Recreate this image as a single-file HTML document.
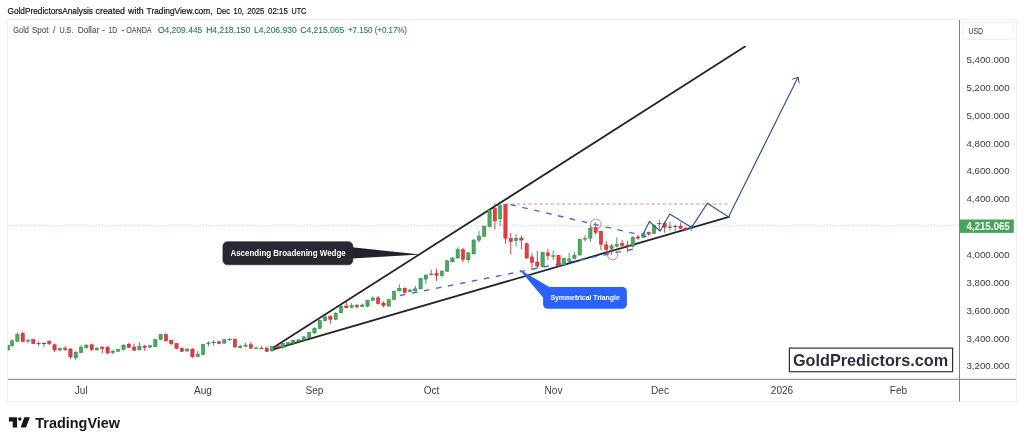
<!DOCTYPE html>
<html lang="en">
<head>
<meta charset="utf-8">
<title>Gold Spot / U.S. Dollar chart</title>
<style>
html,body{margin:0;padding:0;background:#fff;}
body{width:1024px;height:444px;overflow:hidden;}
svg{display:block;font-family:"Liberation Sans","DejaVu Sans",sans-serif;}
</style>
</head>
<body>
<svg width="1024" height="444" viewBox="0 0 1024 444">
<rect width="1024" height="444" fill="#fff"/>
<rect x="7.5" y="19.5" width="1009" height="382" fill="#fff" stroke="#f0f0f0" stroke-width="1"/>
<line x1="8" y1="225.8" x2="959" y2="225.8" stroke="#b4d2b9" stroke-width="1" stroke-dasharray="1 1.6"/>
<line x1="273" y1="347.8" x2="745" y2="46.6" stroke="#262626" stroke-width="1.8" stroke-linecap="round"/>
<line x1="272.5" y1="349.6" x2="729" y2="216.8" stroke="#262626" stroke-width="1.8" stroke-linecap="round"/>
<g id="candles" shape-rendering="auto">
<rect x="8.00" y="345.16" width="1.50" height="4.88" fill="#49aa5b" stroke="#2c8545" stroke-width="0.5"/>
<line x1="12.11" y1="339.30" x2="12.11" y2="347.11" stroke="#2c8545" stroke-width="0.85"/>
<rect x="10.46" y="340.86" width="3.30" height="4.69" fill="#49aa5b" stroke="#2c8545" stroke-width="0.5"/>
<line x1="17.41" y1="332.46" x2="17.41" y2="341.64" stroke="#2c8545" stroke-width="0.85"/>
<rect x="15.76" y="334.41" width="3.30" height="6.84" fill="#49aa5b" stroke="#2c8545" stroke-width="0.5"/>
<line x1="22.71" y1="331.88" x2="22.71" y2="342.23" stroke="#b9292f" stroke-width="0.85"/>
<rect x="21.07" y="333.44" width="3.30" height="8.20" fill="#e43c41" stroke="#b9292f" stroke-width="0.5"/>
<line x1="28.02" y1="338.91" x2="28.02" y2="343.20" stroke="#3f6b4c" stroke-width="0.8"/>
<line x1="25.92" y1="340.86" x2="30.12" y2="340.86" stroke="#3f6b4c" stroke-width="1"/>
<line x1="33.32" y1="338.91" x2="33.32" y2="344.18" stroke="#b9292f" stroke-width="0.85"/>
<rect x="31.67" y="339.69" width="3.30" height="3.91" fill="#e43c41" stroke="#b9292f" stroke-width="0.5"/>
<line x1="38.63" y1="341.25" x2="38.63" y2="346.13" stroke="#3f6b4c" stroke-width="0.8"/>
<line x1="36.53" y1="343.59" x2="40.73" y2="343.59" stroke="#3f6b4c" stroke-width="1"/>
<line x1="43.93" y1="342.23" x2="43.93" y2="347.11" stroke="#8a3b3f" stroke-width="0.8"/>
<line x1="41.83" y1="343.59" x2="46.03" y2="343.59" stroke="#8a3b3f" stroke-width="1"/>
<line x1="49.24" y1="340.27" x2="49.24" y2="345.16" stroke="#b9292f" stroke-width="0.85"/>
<rect x="47.59" y="341.25" width="3.30" height="2.34" fill="#e43c41" stroke="#b9292f" stroke-width="0.5"/>
<line x1="54.54" y1="343.59" x2="54.54" y2="351.99" stroke="#b9292f" stroke-width="0.85"/>
<rect x="52.89" y="344.77" width="3.30" height="5.27" fill="#e43c41" stroke="#b9292f" stroke-width="0.5"/>
<line x1="59.85" y1="347.50" x2="59.85" y2="351.02" stroke="#2c8545" stroke-width="0.85"/>
<rect x="58.20" y="348.48" width="3.30" height="1.56" fill="#49aa5b" stroke="#2c8545" stroke-width="0.5"/>
<line x1="65.16" y1="346.13" x2="65.16" y2="351.02" stroke="#b9292f" stroke-width="0.85"/>
<rect x="63.51" y="348.09" width="3.30" height="1.37" fill="#e43c41" stroke="#b9292f" stroke-width="0.5"/>
<line x1="70.46" y1="348.09" x2="70.46" y2="358.83" stroke="#b9292f" stroke-width="0.85"/>
<rect x="68.81" y="349.06" width="3.30" height="7.81" fill="#e43c41" stroke="#b9292f" stroke-width="0.5"/>
<line x1="75.77" y1="351.02" x2="75.77" y2="359.80" stroke="#2c8545" stroke-width="0.85"/>
<rect x="74.11" y="352.38" width="3.30" height="5.47" fill="#49aa5b" stroke="#2c8545" stroke-width="0.5"/>
<line x1="81.07" y1="345.16" x2="81.07" y2="353.36" stroke="#2c8545" stroke-width="0.85"/>
<rect x="79.42" y="347.11" width="3.30" height="5.47" fill="#49aa5b" stroke="#2c8545" stroke-width="0.5"/>
<line x1="86.37" y1="344.38" x2="86.37" y2="348.67" stroke="#2c8545" stroke-width="0.85"/>
<rect x="84.72" y="345.16" width="3.30" height="2.34" fill="#49aa5b" stroke="#2c8545" stroke-width="0.5"/>
<line x1="91.68" y1="343.59" x2="91.68" y2="351.02" stroke="#b9292f" stroke-width="0.85"/>
<rect x="90.03" y="344.77" width="3.30" height="4.88" fill="#e43c41" stroke="#b9292f" stroke-width="0.5"/>
<line x1="96.98" y1="347.11" x2="96.98" y2="350.62" stroke="#2c8545" stroke-width="0.85"/>
<rect x="95.33" y="348.28" width="3.30" height="1.56" fill="#49aa5b" stroke="#2c8545" stroke-width="0.5"/>
<line x1="102.29" y1="346.33" x2="102.29" y2="353.36" stroke="#b9292f" stroke-width="0.85"/>
<rect x="100.64" y="347.11" width="3.30" height="1.17" fill="#e43c41" stroke="#b9292f" stroke-width="0.5"/>
<line x1="107.59" y1="346.33" x2="107.59" y2="354.14" stroke="#b9292f" stroke-width="0.85"/>
<rect x="105.94" y="347.11" width="3.30" height="5.86" fill="#e43c41" stroke="#b9292f" stroke-width="0.5"/>
<line x1="112.90" y1="350.04" x2="112.90" y2="354.53" stroke="#2c8545" stroke-width="0.85"/>
<rect x="111.25" y="351.02" width="3.30" height="1.56" fill="#49aa5b" stroke="#2c8545" stroke-width="0.5"/>
<line x1="118.20" y1="348.67" x2="118.20" y2="351.60" stroke="#2c8545" stroke-width="0.85"/>
<rect x="116.55" y="349.65" width="3.30" height="1.56" fill="#49aa5b" stroke="#2c8545" stroke-width="0.5"/>
<line x1="123.51" y1="344.18" x2="123.51" y2="350.23" stroke="#2c8545" stroke-width="0.85"/>
<rect x="121.86" y="345.16" width="3.30" height="4.49" fill="#49aa5b" stroke="#2c8545" stroke-width="0.5"/>
<line x1="128.81" y1="342.81" x2="128.81" y2="348.28" stroke="#b9292f" stroke-width="0.85"/>
<rect x="127.16" y="344.18" width="3.30" height="3.32" fill="#e43c41" stroke="#b9292f" stroke-width="0.5"/>
<line x1="134.12" y1="343.59" x2="134.12" y2="350.62" stroke="#b9292f" stroke-width="0.85"/>
<rect x="132.47" y="347.11" width="3.30" height="3.12" fill="#e43c41" stroke="#b9292f" stroke-width="0.5"/>
<line x1="139.43" y1="342.23" x2="139.43" y2="350.23" stroke="#2c8545" stroke-width="0.85"/>
<rect x="137.78" y="346.13" width="3.30" height="3.71" fill="#49aa5b" stroke="#2c8545" stroke-width="0.5"/>
<line x1="144.73" y1="344.77" x2="144.73" y2="351.02" stroke="#b9292f" stroke-width="0.85"/>
<rect x="143.08" y="346.13" width="3.30" height="1.37" fill="#e43c41" stroke="#b9292f" stroke-width="0.5"/>
<line x1="150.03" y1="344.77" x2="150.03" y2="347.89" stroke="#2c8545" stroke-width="0.85"/>
<rect x="148.38" y="345.74" width="3.30" height="1.37" fill="#49aa5b" stroke="#2c8545" stroke-width="0.5"/>
<line x1="155.34" y1="338.91" x2="155.34" y2="347.11" stroke="#2c8545" stroke-width="0.85"/>
<rect x="153.69" y="339.69" width="3.30" height="6.84" fill="#49aa5b" stroke="#2c8545" stroke-width="0.5"/>
<line x1="160.65" y1="333.83" x2="160.65" y2="340.27" stroke="#2c8545" stroke-width="0.85"/>
<rect x="159.00" y="334.61" width="3.30" height="5.08" fill="#49aa5b" stroke="#2c8545" stroke-width="0.5"/>
<line x1="165.95" y1="333.44" x2="165.95" y2="341.64" stroke="#b9292f" stroke-width="0.85"/>
<rect x="164.30" y="334.41" width="3.30" height="6.45" fill="#e43c41" stroke="#b9292f" stroke-width="0.5"/>
<line x1="171.25" y1="339.69" x2="171.25" y2="345.16" stroke="#b9292f" stroke-width="0.85"/>
<rect x="169.60" y="340.27" width="3.30" height="3.32" fill="#e43c41" stroke="#b9292f" stroke-width="0.5"/>
<line x1="176.56" y1="342.81" x2="176.56" y2="349.06" stroke="#b9292f" stroke-width="0.85"/>
<rect x="174.91" y="343.59" width="3.30" height="4.88" fill="#e43c41" stroke="#b9292f" stroke-width="0.5"/>
<line x1="181.87" y1="347.11" x2="181.87" y2="351.99" stroke="#b9292f" stroke-width="0.85"/>
<rect x="180.22" y="348.48" width="3.30" height="2.93" fill="#e43c41" stroke="#b9292f" stroke-width="0.5"/>
<line x1="187.17" y1="348.28" x2="187.17" y2="351.60" stroke="#2c8545" stroke-width="0.85"/>
<rect x="185.52" y="349.06" width="3.30" height="1.95" fill="#49aa5b" stroke="#2c8545" stroke-width="0.5"/>
<line x1="192.47" y1="348.28" x2="192.47" y2="357.66" stroke="#b9292f" stroke-width="0.85"/>
<rect x="190.82" y="349.06" width="3.30" height="7.81" fill="#e43c41" stroke="#b9292f" stroke-width="0.5"/>
<line x1="197.78" y1="351.02" x2="197.78" y2="356.88" stroke="#2c8545" stroke-width="0.85"/>
<rect x="196.13" y="354.14" width="3.30" height="2.34" fill="#49aa5b" stroke="#2c8545" stroke-width="0.5"/>
<line x1="203.09" y1="343.71" x2="203.09" y2="355.43" stroke="#2c8545" stroke-width="0.85"/>
<rect x="201.44" y="344.30" width="3.30" height="10.16" fill="#49aa5b" stroke="#2c8545" stroke-width="0.5"/>
<line x1="208.39" y1="341.17" x2="208.39" y2="346.64" stroke="#3f6b4c" stroke-width="0.8"/>
<line x1="206.29" y1="343.22" x2="210.49" y2="343.22" stroke="#3f6b4c" stroke-width="1"/>
<line x1="213.69" y1="340.39" x2="213.69" y2="345.66" stroke="#3f6b4c" stroke-width="0.8"/>
<line x1="211.59" y1="342.44" x2="215.79" y2="342.44" stroke="#3f6b4c" stroke-width="1"/>
<line x1="219.00" y1="340.78" x2="219.00" y2="344.30" stroke="#b9292f" stroke-width="0.85"/>
<rect x="217.35" y="341.76" width="3.30" height="1.76" fill="#e43c41" stroke="#b9292f" stroke-width="0.5"/>
<line x1="224.31" y1="338.83" x2="224.31" y2="343.71" stroke="#2c8545" stroke-width="0.85"/>
<rect x="222.66" y="339.80" width="3.30" height="3.32" fill="#49aa5b" stroke="#2c8545" stroke-width="0.5"/>
<line x1="229.61" y1="338.44" x2="229.61" y2="341.17" stroke="#3f6b4c" stroke-width="0.8"/>
<line x1="227.51" y1="339.32" x2="231.71" y2="339.32" stroke="#3f6b4c" stroke-width="1"/>
<line x1="234.91" y1="338.44" x2="234.91" y2="347.81" stroke="#b9292f" stroke-width="0.85"/>
<rect x="233.26" y="339.22" width="3.30" height="7.81" fill="#e43c41" stroke="#b9292f" stroke-width="0.5"/>
<line x1="240.22" y1="344.69" x2="240.22" y2="348.59" stroke="#2c8545" stroke-width="0.85"/>
<rect x="238.57" y="346.25" width="3.30" height="1.17" fill="#49aa5b" stroke="#2c8545" stroke-width="0.5"/>
<line x1="245.53" y1="343.12" x2="245.53" y2="347.03" stroke="#2c8545" stroke-width="0.85"/>
<rect x="243.88" y="345.08" width="3.30" height="1.17" fill="#49aa5b" stroke="#2c8545" stroke-width="0.5"/>
<line x1="250.83" y1="341.76" x2="250.83" y2="348.59" stroke="#b9292f" stroke-width="0.85"/>
<rect x="249.18" y="344.69" width="3.30" height="3.52" fill="#e43c41" stroke="#b9292f" stroke-width="0.5"/>
<line x1="256.13" y1="346.64" x2="256.13" y2="348.59" stroke="#3f6b4c" stroke-width="0.8"/>
<line x1="254.03" y1="348.20" x2="258.24" y2="348.20" stroke="#3f6b4c" stroke-width="1"/>
<line x1="261.44" y1="345.66" x2="261.44" y2="348.98" stroke="#3f6b4c" stroke-width="0.8"/>
<line x1="259.34" y1="348.59" x2="263.54" y2="348.59" stroke="#3f6b4c" stroke-width="1"/>
<line x1="266.75" y1="346.64" x2="266.75" y2="351.72" stroke="#b9292f" stroke-width="0.85"/>
<rect x="265.10" y="348.20" width="3.30" height="3.12" fill="#e43c41" stroke="#b9292f" stroke-width="0.5"/>
<line x1="272.05" y1="345.86" x2="272.05" y2="351.52" stroke="#2c8545" stroke-width="0.85"/>
<rect x="270.40" y="346.64" width="3.30" height="4.30" fill="#49aa5b" stroke="#2c8545" stroke-width="0.5"/>
<line x1="277.36" y1="344.69" x2="277.36" y2="348.20" stroke="#b9292f" stroke-width="0.85"/>
<rect x="275.71" y="345.66" width="3.30" height="1.95" fill="#e43c41" stroke="#b9292f" stroke-width="0.5"/>
<line x1="282.66" y1="342.34" x2="282.66" y2="348.59" stroke="#2c8545" stroke-width="0.85"/>
<rect x="281.01" y="343.32" width="3.30" height="4.30" fill="#49aa5b" stroke="#2c8545" stroke-width="0.5"/>
<line x1="287.96" y1="342.15" x2="287.96" y2="345.08" stroke="#2c8545" stroke-width="0.85"/>
<rect x="286.31" y="342.73" width="3.30" height="1.56" fill="#49aa5b" stroke="#2c8545" stroke-width="0.5"/>
<line x1="293.27" y1="339.80" x2="293.27" y2="344.69" stroke="#2c8545" stroke-width="0.85"/>
<rect x="291.62" y="340.39" width="3.30" height="2.73" fill="#49aa5b" stroke="#2c8545" stroke-width="0.5"/>
<line x1="298.57" y1="339.22" x2="298.57" y2="341.95" stroke="#2c8545" stroke-width="0.85"/>
<rect x="296.93" y="339.80" width="3.30" height="1.37" fill="#49aa5b" stroke="#2c8545" stroke-width="0.5"/>
<line x1="303.88" y1="336.09" x2="303.88" y2="340.78" stroke="#2c8545" stroke-width="0.85"/>
<rect x="302.23" y="336.88" width="3.30" height="3.12" fill="#49aa5b" stroke="#2c8545" stroke-width="0.5"/>
<line x1="309.19" y1="331.60" x2="309.19" y2="338.05" stroke="#2c8545" stroke-width="0.85"/>
<rect x="307.54" y="332.38" width="3.30" height="5.08" fill="#49aa5b" stroke="#2c8545" stroke-width="0.5"/>
<line x1="314.49" y1="327.11" x2="314.49" y2="333.75" stroke="#2c8545" stroke-width="0.85"/>
<rect x="312.84" y="328.28" width="3.30" height="4.69" fill="#49aa5b" stroke="#2c8545" stroke-width="0.5"/>
<line x1="319.80" y1="319.69" x2="319.80" y2="329.06" stroke="#2c8545" stroke-width="0.85"/>
<rect x="318.15" y="320.66" width="3.30" height="7.81" fill="#49aa5b" stroke="#2c8545" stroke-width="0.5"/>
<line x1="325.10" y1="315.00" x2="325.10" y2="321.25" stroke="#2c8545" stroke-width="0.85"/>
<rect x="323.45" y="316.95" width="3.30" height="3.71" fill="#49aa5b" stroke="#2c8545" stroke-width="0.5"/>
<line x1="330.40" y1="315.39" x2="330.40" y2="323.59" stroke="#b9292f" stroke-width="0.85"/>
<rect x="328.75" y="316.37" width="3.30" height="2.93" fill="#e43c41" stroke="#b9292f" stroke-width="0.5"/>
<line x1="335.71" y1="312.15" x2="335.71" y2="320.06" stroke="#2c8545" stroke-width="0.85"/>
<rect x="334.06" y="313.16" width="3.30" height="6.09" fill="#49aa5b" stroke="#2c8545" stroke-width="0.5"/>
<line x1="341.01" y1="305.05" x2="341.01" y2="313.57" stroke="#2c8545" stroke-width="0.85"/>
<rect x="339.37" y="306.06" width="3.30" height="6.69" fill="#49aa5b" stroke="#2c8545" stroke-width="0.5"/>
<line x1="346.32" y1="302.01" x2="346.32" y2="308.09" stroke="#b9292f" stroke-width="0.85"/>
<rect x="344.67" y="306.06" width="3.30" height="1.62" fill="#e43c41" stroke="#b9292f" stroke-width="0.5"/>
<line x1="351.62" y1="303.02" x2="351.62" y2="308.09" stroke="#2c8545" stroke-width="0.85"/>
<rect x="349.98" y="305.66" width="3.30" height="1.62" fill="#49aa5b" stroke="#2c8545" stroke-width="0.5"/>
<line x1="356.93" y1="304.04" x2="356.93" y2="308.70" stroke="#b9292f" stroke-width="0.85"/>
<rect x="355.28" y="305.46" width="3.30" height="1.22" fill="#e43c41" stroke="#b9292f" stroke-width="0.5"/>
<line x1="362.24" y1="303.43" x2="362.24" y2="307.08" stroke="#2c8545" stroke-width="0.85"/>
<rect x="360.59" y="305.05" width="3.30" height="1.62" fill="#49aa5b" stroke="#2c8545" stroke-width="0.5"/>
<line x1="367.54" y1="299.57" x2="367.54" y2="307.48" stroke="#2c8545" stroke-width="0.85"/>
<rect x="365.89" y="300.39" width="3.30" height="5.68" fill="#49aa5b" stroke="#2c8545" stroke-width="0.5"/>
<line x1="372.84" y1="296.53" x2="372.84" y2="300.99" stroke="#2c8545" stroke-width="0.85"/>
<rect x="371.19" y="297.95" width="3.30" height="2.43" fill="#49aa5b" stroke="#2c8545" stroke-width="0.5"/>
<line x1="378.15" y1="295.92" x2="378.15" y2="304.65" stroke="#b9292f" stroke-width="0.85"/>
<rect x="376.50" y="297.95" width="3.30" height="5.48" fill="#e43c41" stroke="#b9292f" stroke-width="0.5"/>
<line x1="383.45" y1="301.40" x2="383.45" y2="307.48" stroke="#b9292f" stroke-width="0.85"/>
<rect x="381.81" y="303.02" width="3.30" height="2.64" fill="#e43c41" stroke="#b9292f" stroke-width="0.5"/>
<line x1="388.76" y1="298.97" x2="388.76" y2="306.67" stroke="#2c8545" stroke-width="0.85"/>
<rect x="387.11" y="299.57" width="3.30" height="6.49" fill="#49aa5b" stroke="#2c8545" stroke-width="0.5"/>
<line x1="394.06" y1="290.45" x2="394.06" y2="300.18" stroke="#2c8545" stroke-width="0.85"/>
<rect x="392.42" y="291.26" width="3.30" height="8.32" fill="#49aa5b" stroke="#2c8545" stroke-width="0.5"/>
<line x1="399.37" y1="284.36" x2="399.37" y2="291.46" stroke="#2c8545" stroke-width="0.85"/>
<rect x="397.72" y="288.22" width="3.30" height="2.64" fill="#49aa5b" stroke="#2c8545" stroke-width="0.5"/>
<line x1="404.68" y1="287.40" x2="404.68" y2="293.29" stroke="#b9292f" stroke-width="0.85"/>
<rect x="403.03" y="288.22" width="3.30" height="4.26" fill="#e43c41" stroke="#b9292f" stroke-width="0.5"/>
<line x1="409.98" y1="288.82" x2="409.98" y2="292.47" stroke="#2c8545" stroke-width="0.85"/>
<rect x="408.33" y="290.04" width="3.30" height="1.62" fill="#49aa5b" stroke="#2c8545" stroke-width="0.5"/>
<line x1="415.28" y1="285.78" x2="415.28" y2="291.46" stroke="#2c8545" stroke-width="0.85"/>
<rect x="413.63" y="288.82" width="3.30" height="2.03" fill="#49aa5b" stroke="#2c8545" stroke-width="0.5"/>
<line x1="420.59" y1="277.87" x2="420.59" y2="289.43" stroke="#2c8545" stroke-width="0.85"/>
<rect x="418.94" y="278.68" width="3.30" height="10.14" fill="#49aa5b" stroke="#2c8545" stroke-width="0.5"/>
<line x1="425.89" y1="274.22" x2="425.89" y2="283.75" stroke="#2c8545" stroke-width="0.85"/>
<rect x="424.25" y="275.23" width="3.30" height="3.85" fill="#49aa5b" stroke="#2c8545" stroke-width="0.5"/>
<line x1="431.20" y1="269.55" x2="431.20" y2="275.64" stroke="#3f6b4c" stroke-width="0.8"/>
<line x1="429.10" y1="274.22" x2="433.30" y2="274.22" stroke="#3f6b4c" stroke-width="1"/>
<line x1="436.50" y1="268.54" x2="436.50" y2="281.12" stroke="#b9292f" stroke-width="0.85"/>
<rect x="434.86" y="273.61" width="3.30" height="1.62" fill="#e43c41" stroke="#b9292f" stroke-width="0.5"/>
<line x1="441.81" y1="270.16" x2="441.81" y2="277.67" stroke="#2c8545" stroke-width="0.85"/>
<rect x="440.16" y="271.18" width="3.30" height="4.46" fill="#49aa5b" stroke="#2c8545" stroke-width="0.5"/>
<line x1="447.12" y1="260.02" x2="447.12" y2="272.19" stroke="#2c8545" stroke-width="0.85"/>
<rect x="445.47" y="260.83" width="3.30" height="10.34" fill="#49aa5b" stroke="#2c8545" stroke-width="0.5"/>
<line x1="452.42" y1="256.98" x2="452.42" y2="262.45" stroke="#2c8545" stroke-width="0.85"/>
<rect x="450.77" y="257.99" width="3.30" height="3.85" fill="#49aa5b" stroke="#2c8545" stroke-width="0.5"/>
<line x1="457.72" y1="247.24" x2="457.72" y2="258.40" stroke="#2c8545" stroke-width="0.85"/>
<rect x="456.07" y="249.68" width="3.30" height="8.32" fill="#49aa5b" stroke="#2c8545" stroke-width="0.5"/>
<line x1="463.03" y1="247.85" x2="463.03" y2="262.45" stroke="#b9292f" stroke-width="0.85"/>
<rect x="461.38" y="249.68" width="3.30" height="9.74" fill="#e43c41" stroke="#b9292f" stroke-width="0.5"/>
<line x1="468.33" y1="251.91" x2="468.33" y2="262.45" stroke="#2c8545" stroke-width="0.85"/>
<rect x="466.69" y="252.92" width="3.30" height="6.90" fill="#49aa5b" stroke="#2c8545" stroke-width="0.5"/>
<line x1="473.64" y1="239.13" x2="473.64" y2="254.34" stroke="#2c8545" stroke-width="0.85"/>
<rect x="471.99" y="240.14" width="3.30" height="13.79" fill="#49aa5b" stroke="#2c8545" stroke-width="0.5"/>
<line x1="478.94" y1="231.01" x2="478.94" y2="242.58" stroke="#2c8545" stroke-width="0.85"/>
<rect x="477.30" y="236.09" width="3.30" height="4.06" fill="#49aa5b" stroke="#2c8545" stroke-width="0.5"/>
<line x1="484.25" y1="225.50" x2="484.25" y2="237.06" stroke="#2c8545" stroke-width="0.85"/>
<rect x="482.60" y="226.51" width="3.30" height="9.74" fill="#49aa5b" stroke="#2c8545" stroke-width="0.5"/>
<line x1="489.56" y1="208.66" x2="489.56" y2="227.53" stroke="#2c8545" stroke-width="0.85"/>
<rect x="487.91" y="209.88" width="3.30" height="16.63" fill="#49aa5b" stroke="#2c8545" stroke-width="0.5"/>
<line x1="494.86" y1="203.18" x2="494.86" y2="229.55" stroke="#b9292f" stroke-width="0.85"/>
<rect x="493.21" y="208.66" width="3.30" height="12.17" fill="#e43c41" stroke="#b9292f" stroke-width="0.5"/>
<line x1="500.16" y1="203.79" x2="500.16" y2="226.11" stroke="#2c8545" stroke-width="0.85"/>
<rect x="498.51" y="205.82" width="3.30" height="12.98" fill="#49aa5b" stroke="#2c8545" stroke-width="0.5"/>
<line x1="505.47" y1="203.79" x2="505.47" y2="243.75" stroke="#b9292f" stroke-width="0.85"/>
<rect x="503.82" y="204.60" width="3.30" height="33.67" fill="#e43c41" stroke="#b9292f" stroke-width="0.5"/>
<line x1="510.77" y1="233.00" x2="510.77" y2="254.50" stroke="#b9292f" stroke-width="0.85"/>
<rect x="509.12" y="238.28" width="3.30" height="3.45" fill="#e43c41" stroke="#b9292f" stroke-width="0.5"/>
<line x1="516.08" y1="234.22" x2="516.08" y2="246.39" stroke="#2c8545" stroke-width="0.85"/>
<rect x="514.43" y="238.28" width="3.30" height="2.43" fill="#49aa5b" stroke="#2c8545" stroke-width="0.5"/>
<line x1="521.38" y1="235.64" x2="521.38" y2="249.23" stroke="#b9292f" stroke-width="0.85"/>
<rect x="519.73" y="238.07" width="3.30" height="2.03" fill="#e43c41" stroke="#b9292f" stroke-width="0.5"/>
<line x1="526.69" y1="242.33" x2="526.69" y2="258.97" stroke="#b9292f" stroke-width="0.85"/>
<rect x="525.04" y="243.75" width="3.30" height="14.20" fill="#e43c41" stroke="#b9292f" stroke-width="0.5"/>
<line x1="531.99" y1="252.88" x2="531.99" y2="270.12" stroke="#b9292f" stroke-width="0.85"/>
<rect x="530.34" y="256.94" width="3.30" height="5.68" fill="#e43c41" stroke="#b9292f" stroke-width="0.5"/>
<line x1="537.30" y1="250.85" x2="537.30" y2="268.09" stroke="#b9292f" stroke-width="0.85"/>
<rect x="535.65" y="262.01" width="3.30" height="4.06" fill="#e43c41" stroke="#b9292f" stroke-width="0.5"/>
<line x1="542.60" y1="251.87" x2="542.60" y2="267.48" stroke="#2c8545" stroke-width="0.85"/>
<rect x="540.95" y="252.47" width="3.30" height="14.20" fill="#49aa5b" stroke="#2c8545" stroke-width="0.5"/>
<line x1="547.91" y1="249.23" x2="547.91" y2="259.98" stroke="#b9292f" stroke-width="0.85"/>
<rect x="546.26" y="252.88" width="3.30" height="2.64" fill="#e43c41" stroke="#b9292f" stroke-width="0.5"/>
<line x1="553.21" y1="250.85" x2="553.21" y2="259.98" stroke="#3f6b4c" stroke-width="0.8"/>
<line x1="551.11" y1="256.02" x2="555.31" y2="256.02" stroke="#3f6b4c" stroke-width="1"/>
<line x1="558.52" y1="254.91" x2="558.52" y2="267.08" stroke="#b9292f" stroke-width="0.85"/>
<rect x="556.87" y="255.31" width="3.30" height="10.75" fill="#e43c41" stroke="#b9292f" stroke-width="0.5"/>
<line x1="563.82" y1="257.95" x2="563.82" y2="266.06" stroke="#2c8545" stroke-width="0.85"/>
<rect x="562.17" y="258.56" width="3.30" height="6.49" fill="#49aa5b" stroke="#2c8545" stroke-width="0.5"/>
<line x1="569.13" y1="252.88" x2="569.13" y2="261.40" stroke="#2c8545" stroke-width="0.85"/>
<rect x="567.48" y="258.97" width="3.30" height="1.22" fill="#49aa5b" stroke="#2c8545" stroke-width="0.5"/>
<line x1="574.43" y1="251.87" x2="574.43" y2="259.37" stroke="#2c8545" stroke-width="0.85"/>
<rect x="572.78" y="255.31" width="3.30" height="3.25" fill="#49aa5b" stroke="#2c8545" stroke-width="0.5"/>
<line x1="579.74" y1="238.55" x2="579.74" y2="255.59" stroke="#2c8545" stroke-width="0.85"/>
<rect x="578.09" y="239.36" width="3.30" height="15.62" fill="#49aa5b" stroke="#2c8545" stroke-width="0.5"/>
<line x1="585.04" y1="235.30" x2="585.04" y2="241.39" stroke="#3f6b4c" stroke-width="0.8"/>
<line x1="582.94" y1="238.85" x2="587.14" y2="238.85" stroke="#3f6b4c" stroke-width="1"/>
<line x1="590.35" y1="225.16" x2="590.35" y2="241.80" stroke="#2c8545" stroke-width="0.85"/>
<rect x="588.70" y="228.20" width="3.30" height="9.94" fill="#49aa5b" stroke="#2c8545" stroke-width="0.5"/>
<line x1="595.65" y1="222.53" x2="595.65" y2="234.70" stroke="#b9292f" stroke-width="0.85"/>
<rect x="594.00" y="227.60" width="3.30" height="4.67" fill="#e43c41" stroke="#b9292f" stroke-width="0.5"/>
<line x1="600.96" y1="230.64" x2="600.96" y2="249.91" stroke="#b9292f" stroke-width="0.85"/>
<rect x="599.31" y="231.25" width="3.30" height="12.98" fill="#e43c41" stroke="#b9292f" stroke-width="0.5"/>
<line x1="606.26" y1="240.78" x2="606.26" y2="254.98" stroke="#b9292f" stroke-width="0.85"/>
<rect x="604.61" y="244.84" width="3.30" height="4.67" fill="#e43c41" stroke="#b9292f" stroke-width="0.5"/>
<line x1="611.57" y1="243.82" x2="611.57" y2="254.98" stroke="#2c8545" stroke-width="0.85"/>
<rect x="609.92" y="245.85" width="3.30" height="2.64" fill="#49aa5b" stroke="#2c8545" stroke-width="0.5"/>
<line x1="616.87" y1="237.33" x2="616.87" y2="247.47" stroke="#2c8545" stroke-width="0.85"/>
<rect x="615.22" y="244.63" width="3.30" height="1.62" fill="#49aa5b" stroke="#2c8545" stroke-width="0.5"/>
<line x1="622.18" y1="239.77" x2="622.18" y2="248.29" stroke="#b9292f" stroke-width="0.85"/>
<rect x="620.53" y="243.42" width="3.30" height="2.03" fill="#e43c41" stroke="#b9292f" stroke-width="0.5"/>
<line x1="627.48" y1="240.78" x2="627.48" y2="251.94" stroke="#b9292f" stroke-width="0.85"/>
<rect x="625.83" y="245.24" width="3.30" height="1.22" fill="#e43c41" stroke="#b9292f" stroke-width="0.5"/>
<line x1="632.79" y1="236.12" x2="632.79" y2="247.47" stroke="#2c8545" stroke-width="0.85"/>
<rect x="631.14" y="237.33" width="3.30" height="8.92" fill="#49aa5b" stroke="#2c8545" stroke-width="0.5"/>
<line x1="638.09" y1="234.70" x2="638.09" y2="239.77" stroke="#b9292f" stroke-width="0.85"/>
<rect x="636.44" y="236.93" width="3.30" height="1.22" fill="#e43c41" stroke="#b9292f" stroke-width="0.5"/>
<line x1="643.40" y1="232.06" x2="643.40" y2="238.14" stroke="#2c8545" stroke-width="0.85"/>
<rect x="641.75" y="233.07" width="3.30" height="4.26" fill="#49aa5b" stroke="#2c8545" stroke-width="0.5"/>
<line x1="648.70" y1="231.65" x2="648.70" y2="235.71" stroke="#b9292f" stroke-width="0.85"/>
<rect x="647.05" y="232.46" width="3.30" height="1.62" fill="#e43c41" stroke="#b9292f" stroke-width="0.5"/>
<line x1="654.01" y1="224.55" x2="654.01" y2="234.29" stroke="#2c8545" stroke-width="0.85"/>
<rect x="652.36" y="225.57" width="3.30" height="8.11" fill="#49aa5b" stroke="#2c8545" stroke-width="0.5"/>
<line x1="659.31" y1="219.48" x2="659.31" y2="230.64" stroke="#3f6b4c" stroke-width="0.8"/>
<line x1="657.21" y1="223.64" x2="661.41" y2="223.64" stroke="#3f6b4c" stroke-width="1"/>
<line x1="664.62" y1="221.51" x2="664.62" y2="232.67" stroke="#b9292f" stroke-width="0.85"/>
<rect x="662.97" y="223.54" width="3.30" height="3.65" fill="#e43c41" stroke="#b9292f" stroke-width="0.5"/>
<line x1="669.92" y1="221.51" x2="669.92" y2="230.64" stroke="#3f6b4c" stroke-width="0.8"/>
<line x1="667.82" y1="227.19" x2="672.02" y2="227.19" stroke="#3f6b4c" stroke-width="1"/>
<line x1="675.23" y1="224.55" x2="675.23" y2="231.25" stroke="#3f6b4c" stroke-width="0.8"/>
<line x1="673.13" y1="226.58" x2="677.33" y2="226.58" stroke="#3f6b4c" stroke-width="1"/>
<line x1="680.53" y1="222.53" x2="680.53" y2="229.22" stroke="#b9292f" stroke-width="0.85"/>
<rect x="678.88" y="226.18" width="3.30" height="2.03" fill="#e43c41" stroke="#b9292f" stroke-width="0.5"/>
<line x1="685.84" y1="226.58" x2="685.84" y2="230.64" stroke="#b9292f" stroke-width="0.85"/>
<rect x="684.19" y="228.20" width="3.30" height="1.42" fill="#e43c41" stroke="#b9292f" stroke-width="0.5"/>
<line x1="691.14" y1="224.55" x2="691.14" y2="231.25" stroke="#2c8545" stroke-width="0.85"/>
<rect x="689.49" y="226.58" width="3.30" height="2.03" fill="#49aa5b" stroke="#2c8545" stroke-width="0.5"/>
</g>
<line x1="506" y1="204" x2="729" y2="204" stroke="#e27f8a" stroke-width="1" stroke-dasharray="3 2.6"/>
<line x1="510.4" y1="204.6" x2="650" y2="237.3" stroke="#3f6ade" stroke-width="1.35" stroke-dasharray="5.6 6.6"/>
<line x1="400" y1="295.5" x2="634" y2="249" stroke="#3f6ade" stroke-width="1.35" stroke-dasharray="5.6 6.6"/>
<circle cx="595.8" cy="224.3" r="5.2" fill="none" stroke="#e0525c" stroke-width="0.8"/>
<circle cx="612.5" cy="254.6" r="5.2" fill="none" stroke="#e0525c" stroke-width="0.8"/>
<polyline points="643.7,233 649.4,221.5 660.1,231.2 669.7,214 691.6,227.4 707.4,203.3 728.5,217 798,77.2" fill="none" stroke="#2d5091" stroke-width="1.15" stroke-linejoin="miter"/>
<polyline points="792.2,79.3 798,77.2 799.3,83.4" fill="none" stroke="#2f5597" stroke-width="1"/>
<path d="M352,247.2 L420.3,254.6 L352,258.6 Z" fill="#23232e"/>
<rect x="222.9" y="241.7" width="130" height="23.1" rx="4.5" fill="#282831" stroke="#23234a" stroke-width="0.6"/>
<text x="288.1" y="255.7" text-anchor="middle" font-size="8.6" font-weight="700" fill="#fff" textLength="115.4" lengthAdjust="spacingAndGlyphs">Ascending Broadening Wedge</text>
<path d="M519.2,269.2 L551,288 L543.5,298 Z" fill="#2a61fa"/>
<rect x="543.1" y="287" width="83.8" height="21.8" rx="4.5" fill="#2a61fa"/>
<text x="585.1" y="299.9" text-anchor="middle" font-size="7.4" font-weight="700" fill="#fff" textLength="69.4" lengthAdjust="spacingAndGlyphs">Symmetrical Triangle</text>
<rect x="789.4" y="348.1" width="163.2" height="23.6" fill="#fff" stroke="#333" stroke-width="1.2"/>
<text x="793" y="365.5" font-size="16.3" font-weight="700" fill="#2a2e39" textLength="155.1" lengthAdjust="spacingAndGlyphs">GoldPredictors.com</text>
<line x1="8" y1="379.3" x2="1016" y2="379.3" stroke="#7e8088" stroke-width="1"/>
<line x1="959.5" y1="20" x2="959.5" y2="401.5" stroke="#7e8088" stroke-width="1"/>
<rect x="963" y="22.5" width="51" height="17" rx="2" fill="#fff" stroke="#efefef" stroke-width="1"/>
<text x="968.4" y="34.3" font-size="8.2" fill="#333" textLength="14.8" lengthAdjust="spacingAndGlyphs">USD</text>
<text x="966.4" y="62.9" font-size="9.8" fill="#3a3d46" textLength="43.2" lengthAdjust="spacingAndGlyphs">5,400.000</text>
<text x="966.4" y="90.9" font-size="9.8" fill="#3a3d46" textLength="43.2" lengthAdjust="spacingAndGlyphs">5,200.000</text>
<text x="966.4" y="118.7" font-size="9.8" fill="#3a3d46" textLength="43.2" lengthAdjust="spacingAndGlyphs">5,000.000</text>
<text x="966.4" y="146.6" font-size="9.8" fill="#3a3d46" textLength="43.2" lengthAdjust="spacingAndGlyphs">4,800.000</text>
<text x="966.4" y="174.4" font-size="9.8" fill="#3a3d46" textLength="43.2" lengthAdjust="spacingAndGlyphs">4,600.000</text>
<text x="966.4" y="202.3" font-size="9.8" fill="#3a3d46" textLength="43.2" lengthAdjust="spacingAndGlyphs">4,400.000</text>
<text x="966.4" y="258.0" font-size="9.8" fill="#3a3d46" textLength="43.2" lengthAdjust="spacingAndGlyphs">4,000.000</text>
<text x="966.4" y="285.8" font-size="9.8" fill="#3a3d46" textLength="43.2" lengthAdjust="spacingAndGlyphs">3,800.000</text>
<text x="966.4" y="313.7" font-size="9.8" fill="#3a3d46" textLength="43.2" lengthAdjust="spacingAndGlyphs">3,600.000</text>
<text x="966.4" y="341.5" font-size="9.8" fill="#3a3d46" textLength="43.2" lengthAdjust="spacingAndGlyphs">3,400.000</text>
<text x="966.4" y="369.4" font-size="9.8" fill="#3a3d46" textLength="43.2" lengthAdjust="spacingAndGlyphs">3,200.000</text>
<rect x="959.6" y="219.5" width="54.2" height="13.4" fill="#45a65a"/>
<text x="966.4" y="229.8" font-size="10" font-weight="700" fill="#fff" textLength="43.4" lengthAdjust="spacingAndGlyphs">4,215.065</text>
<text x="81.2" y="393.6" text-anchor="middle" font-size="10.1" fill="#3a3d46">Jul</text>
<text x="203" y="393.6" text-anchor="middle" font-size="10.1" fill="#3a3d46">Aug</text>
<text x="314.5" y="393.6" text-anchor="middle" font-size="10.1" fill="#3a3d46">Sep</text>
<text x="431.5" y="393.6" text-anchor="middle" font-size="10.1" fill="#3a3d46">Oct</text>
<text x="553.5" y="393.6" text-anchor="middle" font-size="10.1" fill="#3a3d46">Nov</text>
<text x="660" y="393.6" text-anchor="middle" font-size="10.1" fill="#3a3d46">Dec</text>
<text x="782" y="393.6" text-anchor="middle" font-size="10.1" fill="#3a3d46">2026</text>
<text x="898.5" y="393.6" text-anchor="middle" font-size="10.1" fill="#3a3d46">Feb</text>
<text x="7" y="13.8" font-size="9.3" fill="#161616" stroke="#161616" stroke-width="0.22"><tspan x="7.5" textLength="85.5" lengthAdjust="spacingAndGlyphs">GoldPredictorsAnalysis</tspan> <tspan x="95.6" textLength="29.4" lengthAdjust="spacingAndGlyphs">created</tspan> <tspan x="128.1" textLength="15.7" lengthAdjust="spacingAndGlyphs">with</tspan> <tspan x="146.6" textLength="65.9" lengthAdjust="spacingAndGlyphs">TradingView.com,</tspan> <tspan x="216.4" textLength="13.6" lengthAdjust="spacingAndGlyphs">Dec</tspan> <tspan x="233.6" textLength="10.2" lengthAdjust="spacingAndGlyphs">10,</tspan> <tspan x="247.2" textLength="17.2" lengthAdjust="spacingAndGlyphs">2025</tspan> <tspan x="268.0" textLength="19.8" lengthAdjust="spacingAndGlyphs">02:15</tspan> <tspan x="291.4" textLength="14.9" lengthAdjust="spacingAndGlyphs">UTC</tspan></text>
<text x="13" y="33.2" font-size="8.5" fill="#4d515a" stroke="#4d515a" stroke-width="0.12"><tspan x="13.3" textLength="15.6" lengthAdjust="spacingAndGlyphs">Gold</tspan><tspan x="32.0" textLength="16.4" lengthAdjust="spacingAndGlyphs">Spot</tspan><tspan x="53.1" textLength="2.4" lengthAdjust="spacingAndGlyphs">/</tspan><tspan x="59.4" textLength="14.0" lengthAdjust="spacingAndGlyphs">U.S.</tspan><tspan x="77.8" textLength="21.4" lengthAdjust="spacingAndGlyphs">Dollar</tspan><tspan x="102.3" textLength="2.8" lengthAdjust="spacingAndGlyphs">-</tspan><tspan x="108.6" textLength="8.6" lengthAdjust="spacingAndGlyphs">1D</tspan><tspan x="121.4" textLength="2.8" lengthAdjust="spacingAndGlyphs">-</tspan><tspan x="126.3" textLength="25.3" lengthAdjust="spacingAndGlyphs">OANDA</tspan><tspan x="157.9" fill="#4d515a">O</tspan><tspan fill="#2f7d57" stroke="#2f7d57">4,209.445</tspan><tspan x="206.2" fill="#4d515a">H</tspan><tspan fill="#2f7d57" stroke="#2f7d57">4,218.150</tspan><tspan x="254.1" fill="#4d515a">L</tspan><tspan fill="#2f7d57" stroke="#2f7d57">4,206.930</tspan><tspan x="300.3" fill="#4d515a">C</tspan><tspan fill="#2f7d57" stroke="#2f7d57">4,215.065</tspan><tspan x="348" fill="#2f7d57" stroke="#2f7d57" textLength="59" lengthAdjust="spacingAndGlyphs">+7.150 (+0.17%)</tspan></text>
<g fill="#161616"><path d="M8.9,417.3 H17.1 V427.6 H12.7 V421.5 H8.9 Z"/><circle cx="19.8" cy="419" r="1.7"/><path d="M24.3,417.3 H29.9 L26,427.6 H20.6 Z"/></g>
<text x="35.3" y="427.6" font-size="14.4" font-weight="700" fill="#161616" textLength="84.7" lengthAdjust="spacingAndGlyphs">TradingView</text>
</svg>
</body>
</html>
